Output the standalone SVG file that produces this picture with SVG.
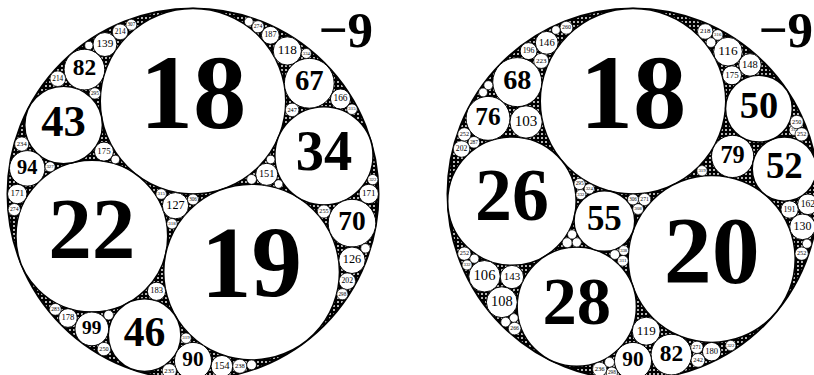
<svg xmlns="http://www.w3.org/2000/svg" width="814" height="375" viewBox="0 0 814 375">
<defs>
<pattern id="dots" width="4" height="4" patternUnits="userSpaceOnUse"><rect width="4" height="4" fill="#000"/><circle cx="2" cy="2" r="0.95" fill="#fff"/></pattern>
<style>
.o{fill:url(#dots);stroke:#000;stroke-width:2}
.b{fill:#fff;stroke:#000;stroke-width:1.5}
.m{fill:#fff;stroke:#000;stroke-width:1}
.s{fill:#fff;stroke:#000;stroke-width:.7}
text{font-family:"Liberation Serif","DejaVu Serif",serif;text-anchor:middle;fill:#000}
.h{font-weight:bold}
.k{text-anchor:end;font-weight:bold}
</style>
</defs>
<rect width="814" height="375" fill="#fff"/>
<g id="left-gasket">
<circle class="o" cx="193" cy="194" r="185.5"/>
<g id="left-circles">
<circle class="b" cx="193" cy="101.25" r="92.75"/>
<circle class="b" cx="91.82" cy="236.16" r="75.89"/>
<circle class="b" cx="251.58" cy="272.11" r="87.87"/>
<circle class="m" cx="175.47" cy="205.69" r="13.15"/>
<circle class="b" cx="63.58" cy="124.98" r="38.83"/>
<circle class="b" cx="323.94" cy="155.81" r="49.10"/>
<circle class="b" cx="144.61" cy="335.14" r="36.29"/>
<circle class="s" cx="161.2" cy="194" r="5.30"/>
<circle class="s" cx="193" cy="199.46" r="5.46"/>
<circle class="s" cx="172.0" cy="223.75" r="5.25"/>
<circle class="m" cx="84.41" cy="69.58" r="20.36"/>
<circle class="m" cx="27.23" cy="168.35" r="17.76"/>
<circle class="m" cx="103.96" cy="151.6" r="9.54"/>
<circle class="m" cx="309.28" cy="83.25" r="24.92"/>
<circle class="m" cx="352.0" cy="223.15" r="23.85"/>
<circle class="m" cx="266.71" cy="174.34" r="11.06"/>
<circle class="m" cx="91.82" cy="328.91" r="16.86"/>
<circle class="m" cx="193" cy="360.95" r="18.55"/>
<circle class="m" cx="156.51" cy="291.31" r="9.12"/>
<circle class="m" cx="104.92" cy="44.53" r="12.01"/>
<circle class="s" cx="57.78" cy="78.71" r="7.80"/>
<circle class="s" cx="94.9" cy="93.39" r="5.66"/>
<circle class="m" cx="17.26" cy="194" r="9.76"/>
<circle class="s" cx="21.77" cy="144.06" r="7.13"/>
<circle class="s" cx="50.05" cy="166.77" r="5.11"/>
<circle class="s" cx="115.35" cy="159.49" r="4.31"/>
<circle class="m" cx="287.32" cy="50.94" r="14.15"/>
<circle class="m" cx="340.51" cy="99.02" r="10.06"/>
<circle class="s" cx="292.13" cy="109.89" r="6.76"/>
<circle class="m" cx="352.0" cy="260.25" r="13.25"/>
<circle class="m" cx="368.74" cy="194" r="9.76"/>
<circle class="s" cx="323.94" cy="211.46" r="6.55"/>
<circle class="s" cx="251.58" cy="179.36" r="4.88"/>
<circle class="s" cx="270.65" cy="159.49" r="4.31"/>
<circle class="s" cx="278.62" cy="184.01" r="4.28"/>
<circle class="m" cx="67.94" cy="318.01" r="9.38"/>
<circle class="s" cx="103.96" cy="349.08" r="6.68"/>
<circle class="s" cx="108.63" cy="315.14" r="4.87"/>
<circle class="m" cx="221.91" cy="366.25" r="10.84"/>
<circle class="s" cx="169.32" cy="370.82" r="7.10"/>
<circle class="s" cx="186.02" cy="338.21" r="5.23"/>
<circle class="s" cx="120.19" cy="31.9" r="7.80"/>
<circle class="s" cx="88.83" cy="45.51" r="4.11"/>
<circle class="s" cx="14.27" cy="209.57" r="6.09"/>
<circle class="m" cx="270.37" cy="35.28" r="8.93"/>
<circle class="s" cx="306.3" cy="53.49" r="5.0"/>
<circle class="s" cx="352.0" cy="109.2" r="5.30"/>
<circle class="s" cx="347.28" cy="281.24" r="8.26"/>
<circle class="s" cx="365.44" cy="248.34" r="4.70"/>
<circle class="s" cx="372.74" cy="179.6" r="5.18"/>
<circle class="s" cx="55.35" cy="309.36" r="5.90"/>
<circle class="s" cx="239.76" cy="366.25" r="7.01"/>
<circle class="s" cx="257.99" cy="26.78" r="6.09"/>
<circle class="s" cx="131.37" cy="24.81" r="5.44"/>
<circle class="s" cx="342.4" cy="294.22" r="5.60"/>
<circle class="s" cx="251.58" cy="364.86" r="4.88"/>
<circle class="s" cx="248.8" cy="21.72" r="4.41"/>
</g>
<g id="left-labels">
<text class="h" x="193" y="127.9" font-size="106.7">18</text>
<text class="h" x="91.82" y="258.0" font-size="87.3">22</text>
<text class="h" x="251.58" y="297.4" font-size="101">19</text>
<text x="175.47" y="208.7" font-size="12.2">127</text>
<text class="h" x="63.58" y="136.2" font-size="44.7">43</text>
<text class="h" x="323.94" y="169.9" font-size="56.5">34</text>
<text class="h" x="144.61" y="345.6" font-size="41.7">46</text>
<text x="161.2" y="195.2" font-size="4.9">315</text>
<text x="193" y="200.7" font-size="5.1">306</text>
<text x="172.0" y="225.0" font-size="4.9">318</text>
<text class="h" x="84.41" y="75.4" font-size="23.4">82</text>
<text class="h" x="27.23" y="173.5" font-size="20.4">94</text>
<text x="103.96" y="153.8" font-size="8.9">175</text>
<text class="h" x="309.28" y="90.4" font-size="28.7">67</text>
<text class="h" x="352.0" y="230.0" font-size="27.4">70</text>
<text x="266.71" y="176.9" font-size="10.3">151</text>
<text class="h" x="91.82" y="333.8" font-size="19.4">99</text>
<text class="h" x="193" y="366.3" font-size="21.3">90</text>
<text x="156.51" y="293.4" font-size="8.5">183</text>
<text x="104.92" y="47.3" font-size="11.2">139</text>
<text x="57.78" y="80.5" font-size="7.3">214</text>
<text x="94.9" y="94.7" font-size="5.3">295</text>
<text x="17.26" y="196.3" font-size="9.1">171</text>
<text x="21.77" y="145.8" font-size="6.6">234</text>
<text x="50.05" y="168.0" font-size="4.8">327</text>
<text x="287.32" y="54.2" font-size="13.2">118</text>
<text x="340.51" y="101.4" font-size="9.4">166</text>
<text x="292.13" y="111.5" font-size="6.3">247</text>
<text x="352.0" y="263.3" font-size="12.3">126</text>
<text x="368.74" y="196.3" font-size="9.1">171</text>
<text x="323.94" y="213.0" font-size="6.1">255</text>
<text x="67.94" y="320.2" font-size="8.7">178</text>
<text x="103.96" y="350.6" font-size="6.2">250</text>
<text x="221.91" y="368.8" font-size="10.1">154</text>
<text x="169.32" y="372.5" font-size="6.6">235</text>
<text x="186.02" y="339.4" font-size="4.9">319</text>
<text x="120.19" y="33.7" font-size="7.3">214</text>
<text x="14.27" y="211.0" font-size="5.7">274</text>
<text x="270.37" y="37.4" font-size="8.3">187</text>
<text x="306.3" y="54.7" font-size="4.7">334</text>
<text x="352.0" y="110.4" font-size="4.9">315</text>
<text x="347.28" y="283.2" font-size="7.7">202</text>
<text x="372.74" y="180.8" font-size="4.8">322</text>
<text x="55.35" y="310.8" font-size="5.5">283</text>
<text x="239.76" y="367.9" font-size="6.5">238</text>
<text x="257.99" y="28.2" font-size="5.7">274</text>
<text x="131.37" y="26.1" font-size="5.1">307</text>
<text x="342.4" y="295.5" font-size="5.2">298</text>
</g>
<text class="k" x="373" y="47" font-size="51">−9</text>
</g>
<g id="right-gasket">
<circle class="o" cx="633" cy="194" r="185.5"/>
<g id="right-circles">
<circle class="b" cx="633" cy="101.25" r="92.75"/>
<circle class="b" cx="711.70" cy="258.93" r="83.48"/>
<circle class="b" cx="511.92" cy="201.13" r="64.21"/>
<circle class="b" cx="576.78" cy="306.63" r="59.63"/>
<circle class="b" cx="604.38" cy="220.98" r="30.35"/>
<circle class="m" cx="732.62" cy="156.43" r="21.13"/>
<circle class="b" cx="784.35" cy="169.03" r="32.11"/>
<circle class="b" cx="758.92" cy="108.67" r="33.39"/>
<circle class="m" cx="526.03" cy="121.96" r="16.21"/>
<circle class="m" cx="488.02" cy="118.34" r="21.97"/>
<circle class="m" cx="517.26" cy="82.15" r="24.55"/>
<circle class="m" cx="646.23" cy="331.18" r="14.03"/>
<circle class="m" cx="671.39" cy="354.62" r="20.36"/>
<circle class="m" cx="633" cy="360.95" r="18.55"/>
<circle class="m" cx="511.92" cy="277.02" r="11.67"/>
<circle class="m" cx="484.51" cy="276.25" r="15.75"/>
<circle class="m" cx="501.83" cy="302.21" r="15.46"/>
<circle class="s" cx="644.62" cy="199.48" r="6.16"/>
<circle class="s" cx="638.11" cy="209.06" r="5.42"/>
<circle class="s" cx="633" cy="199.46" r="5.46"/>
<circle class="s" cx="579.64" cy="183.94" r="5.66"/>
<circle class="s" cx="580.85" cy="194.56" r="5.03"/>
<circle class="s" cx="589.28" cy="188.85" r="5.15"/>
<circle class="s" cx="622.88" cy="260.80" r="5.37"/>
<circle class="s" cx="623.69" cy="250.53" r="4.94"/>
<circle class="s" cx="614.80" cy="254.58" r="4.83"/>
<circle class="s" cx="567.22" cy="242.73" r="4.98"/>
<circle class="s" cx="572.13" cy="234.48" r="4.61"/>
<circle class="s" cx="576.78" cy="242.41" r="4.59"/>
<circle class="s" cx="702.08" cy="170.74" r="5.23"/>
<circle class="m" cx="789.58" cy="209.54" r="8.74"/>
<circle class="m" cx="802.51" cy="226.82" r="12.84"/>
<circle class="m" cx="807.89" cy="204.31" r="10.31"/>
<circle class="m" cx="731.94" cy="75.28" r="9.54"/>
<circle class="m" cx="749.99" cy="64.90" r="11.28"/>
<circle class="m" cx="727.98" cy="51.67" r="14.39"/>
<circle class="s" cx="794.57" cy="130.12" r="5.37"/>
<circle class="s" cx="796.70" cy="122.03" r="6.68"/>
<circle class="s" cx="801.65" cy="134.37" r="6.63"/>
<circle class="s" cx="473.95" cy="142.29" r="5.82"/>
<circle class="s" cx="461.57" cy="149.0" r="8.26"/>
<circle class="s" cx="464.35" cy="134.37" r="6.63"/>
<circle class="s" cx="541.24" cy="60.91" r="7.49"/>
<circle class="m" cx="528.60" cy="51.09" r="8.52"/>
<circle class="m" cx="546.75" cy="42.80" r="11.43"/>
<circle class="s" cx="488.36" cy="85.21" r="4.51"/>
<circle class="s" cx="483.09" cy="92.42" r="4.42"/>
<circle class="s" cx="696.89" cy="347.33" r="6.16"/>
<circle class="m" cx="711.70" cy="351.68" r="9.28"/>
<circle class="s" cx="698.04" cy="360.34" r="6.90"/>
<circle class="s" cx="609.51" cy="362.34" r="4.98"/>
<circle class="s" cx="611.87" cy="372.64" r="5.60"/>
<circle class="s" cx="599.65" cy="369.28" r="7.07"/>
<circle class="s" cx="474.31" cy="258.70" r="4.55"/>
<circle class="s" cx="464.35" cy="253.63" r="6.63"/>
<circle class="s" cx="467.06" cy="264.96" r="5.03"/>
<circle class="s" cx="513.82" cy="317.99" r="4.36"/>
<circle class="s" cx="505.62" cy="322.13" r="4.83"/>
<circle class="s" cx="514.65" cy="328.59" r="6.28"/>
<circle class="s" cx="801.65" cy="253.63" r="6.63"/>
<circle class="s" cx="806.93" cy="243.71" r="4.61"/>
<circle class="s" cx="705.2" cy="31.47" r="7.66"/>
<circle class="s" cx="717.68" cy="34.92" r="5.28"/>
<circle class="s" cx="711.0" cy="42.57" r="4.87"/>
<circle class="s" cx="566.41" cy="27.76" r="6.42"/>
<circle class="s" cx="555.92" cy="30.01" r="4.30"/>
<circle class="s" cx="730.77" cy="345.51" r="5.18"/>
</g>
<g id="right-labels">
<text class="h" x="633" y="127.9" font-size="106.7">18</text>
<text class="h" x="711.70" y="282.9" font-size="96">20</text>
<text class="h" x="511.92" y="219.6" font-size="73.8">26</text>
<text class="h" x="576.78" y="323.8" font-size="68.6">28</text>
<text class="h" x="604.38" y="229.7" font-size="34.9">55</text>
<text class="h" x="732.62" y="162.5" font-size="24.3">79</text>
<text class="h" x="784.35" y="178.3" font-size="36.9">52</text>
<text class="h" x="758.92" y="118.3" font-size="38.4">50</text>
<text x="526.03" y="125.7" font-size="15.1">103</text>
<text class="h" x="488.02" y="124.7" font-size="25.3">76</text>
<text class="h" x="517.26" y="89.2" font-size="28.2">68</text>
<text x="646.23" y="334.5" font-size="13">119</text>
<text class="h" x="671.39" y="360.5" font-size="23.4">82</text>
<text class="h" x="633" y="366.3" font-size="21.3">90</text>
<text x="511.92" y="279.7" font-size="10.9">143</text>
<text x="484.51" y="279.9" font-size="14.6">106</text>
<text x="501.83" y="305.8" font-size="14.4">108</text>
<text x="644.62" y="200.9" font-size="5.7">271</text>
<text x="638.11" y="210.4" font-size="5">308</text>
<text x="633" y="200.7" font-size="5.1">306</text>
<text x="579.64" y="185.3" font-size="5.3">295</text>
<text x="580.85" y="195.8" font-size="4.7">332</text>
<text x="589.28" y="190.1" font-size="4.8">324</text>
<text x="622.88" y="262.1" font-size="5">311</text>
<text x="623.69" y="251.7" font-size="4.6">338</text>
<text x="702.08" y="171.9" font-size="4.9">319</text>
<text x="789.58" y="211.6" font-size="8.1">191</text>
<text x="802.51" y="229.8" font-size="11.9">130</text>
<text x="807.89" y="206.7" font-size="9.6">162</text>
<text x="731.94" y="77.5" font-size="8.9">175</text>
<text x="749.99" y="67.5" font-size="10.5">148</text>
<text x="727.98" y="55.0" font-size="13.4">116</text>
<text x="794.57" y="131.4" font-size="5">311</text>
<text x="796.70" y="123.6" font-size="6.2">250</text>
<text x="801.65" y="135.9" font-size="6.2">252</text>
<text x="473.95" y="143.6" font-size="5.4">287</text>
<text x="461.57" y="150.9" font-size="7.7">202</text>
<text x="464.35" y="135.9" font-size="6.2">252</text>
<text x="541.24" y="62.7" font-size="7">223</text>
<text x="528.60" y="53.1" font-size="7.9">196</text>
<text x="546.75" y="45.5" font-size="10.6">146</text>
<text x="696.89" y="348.7" font-size="5.7">271</text>
<text x="711.70" y="353.8" font-size="8.6">180</text>
<text x="698.04" y="361.9" font-size="6.4">242</text>
<text x="611.87" y="373.9" font-size="5.2">298</text>
<text x="599.65" y="370.9" font-size="6.6">236</text>
<text x="464.35" y="255.2" font-size="6.2">252</text>
<text x="467.06" y="266.2" font-size="4.7">332</text>
<text x="514.65" y="330.1" font-size="5.8">266</text>
<text x="801.65" y="255.2" font-size="6.2">252</text>
<text x="705.2" y="33.3" font-size="7.1">218</text>
<text x="717.68" y="36.1" font-size="4.9">316</text>
<text x="566.41" y="29.3" font-size="6">260</text>
<text x="730.77" y="346.7" font-size="4.8">322</text>
</g>
<text class="k" x="813" y="47" font-size="51">−9</text>
</g>
</svg>
